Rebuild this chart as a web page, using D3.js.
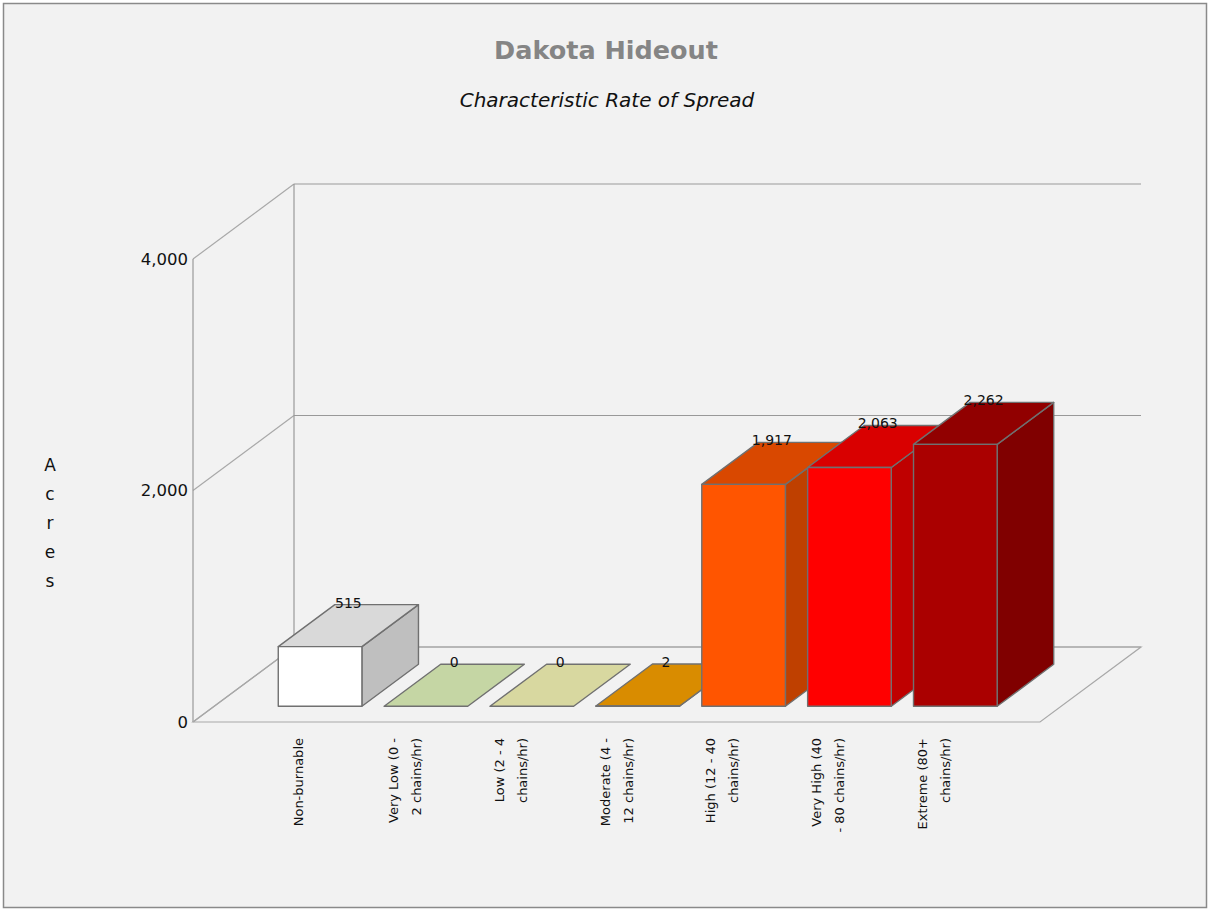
<!DOCTYPE html>
<html>
<head>
<meta charset="utf-8">
<script src="https://cdn.jsdelivr.net/npm/d3@7/dist/d3.min.js"></script>
<style>
  html, body { margin: 0; padding: 0; background: #ffffff; }
  svg { display: block; }
  text { font-family: "DejaVu Sans", Verdana, sans-serif; }
</style>
</head>
<body>
<script>
const categories = ["Non-burnable", "Very Low (0 - 2 chains/hr)", "Low (2 - 4 chains/hr)", "Moderate (4 - 12 chains/hr)", "High (12 - 40 chains/hr)", "Very High (40 - 80 chains/hr)", "Extreme (80+ chains/hr)"];
const categoryLines = [["Non-burnable"], ["Very Low (0 -", "2 chains/hr)"], ["Low (2 - 4", "chains/hr)"], ["Moderate (4 -", "12 chains/hr)"], ["High (12 - 40", "chains/hr)"], ["Very High (40", "- 80 chains/hr)"], ["Extreme (80+", "chains/hr)"]];
const acres = [515, 0, 0, 2, 1917, 2063, 2262];
const barColors = ["#ffffff", "#e8fcc1", "#fefebc", "#ffa500", "#ff5500", "#ff0000", "#aa0000"];
const yTicks = [0, 2000, 4000];
const titleText = "Dakota Hideout";
const subtitleText = "Characteristic Rate of Spread";
const yAxisTitle = "Acres";

const W = 1208, H = 909;
const svg = d3.select("body").append("svg").attr("width", W).attr("height", H);

svg.append("rect").attr("x", 0).attr("y", 0).attr("width", W).attr("height", H).attr("fill", "#ffffff");
svg.append("rect").attr("x", 3.5).attr("y", 3.5).attr("width", 1203).attr("height", 904)
  .attr("fill", "#f2f2f2").attr("stroke", "#8a8a8a").attr("stroke-width", 1.5);

// geometry
const x0 = 193, x1 = 1040;
const depthX = 101, depthY = 75;
const x = d3.scalePoint().domain(categories).range([x0, x1]).padding(1);
const y = d3.scaleLinear().domain([0, 4000]).range([722, 259]);
const zFront = 0.21, zBack = 0.77;
const barW = x.step() * 0.79;
const P = (px, v, z) => [px + z * depthX, y(v) - z * depthY];

const gridColor = "#999999";
yTicks.forEach(t => {
  const a = P(x0, t, 1), b = P(x1, t, 1), c = P(x0, t, 0);
  svg.append("line").attr("x1", c[0]).attr("y1", c[1]).attr("x2", a[0]).attr("y2", a[1])
    .attr("stroke", "#a8a8a8").attr("stroke-width", 1.2);
  svg.append("line").attr("x1", a[0]).attr("y1", a[1]).attr("x2", b[0]).attr("y2", b[1])
    .attr("stroke", gridColor).attr("stroke-width", 1.2);
});
[0, 1].forEach(z => {
  const a = P(x0, 0, z), b = P(x0, 4000, z);
  svg.append("line").attr("x1", a[0]).attr("y1", a[1]).attr("x2", b[0]).attr("y2", b[1])
    .attr("stroke", gridColor).attr("stroke-width", 1.2);
});
{
  const pts = [P(x0, 0, 0), P(x1, 0, 0), P(x1, 0, 1), P(x0, 0, 1)];
  svg.append("path").attr("d", "M" + pts.map(p => p.join(",")).join("L") + "Z")
    .attr("fill", "none").attr("stroke", "#a8a8a8").attr("stroke-width", 1.2);
}

yTicks.forEach(t => {
  svg.append("text").attr("x", 188).attr("y", y(t)).attr("dy", "0.35em")
    .attr("text-anchor", "end").attr("font-size", 16.5).attr("fill", "#111").text(d3.format(",")(t));
});

yAxisTitle.split("").forEach((ch, i) => {
  svg.append("text").attr("x", 50).attr("y", 465 + i * 29).attr("dy", "0.35em")
    .attr("text-anchor", "middle").attr("font-size", 17).attr("fill", "#111").text(ch);
});

const shade = (c, k) => { const r = d3.rgb(c); return d3.rgb(r.r * k, r.g * k, r.b * k).formatHex(); };
const poly = pts => "M" + pts.map(p => p.join(",")).join("L") + "Z";
categories.forEach((cat, i) => {
  const cx = x(cat);
  const l = cx - barW / 2, r = cx + barW / 2;
  const v = acres[i];
  const g = svg.append("g");
  const front = [P(l, 0, zFront), P(r, 0, zFront), P(r, v, zFront), P(l, v, zFront)];
  const top = [P(l, v, zFront), P(r, v, zFront), P(r, v, zBack), P(l, v, zBack)];
  const side = [P(r, 0, zFront), P(r, 0, zBack), P(r, v, zBack), P(r, v, zFront)];
  const sc = "#707070", sw = 1.4;
  if (v > 0) {
    g.append("path").attr("d", poly(side)).attr("fill", shade(barColors[i], 0.75))
      .attr("stroke", sc).attr("stroke-width", sw).attr("stroke-linejoin", "round");
  }
  g.append("path").attr("d", poly(top)).attr("fill", shade(barColors[i], 0.85))
    .attr("stroke", sc).attr("stroke-width", sw).attr("stroke-linejoin", "round");
  if (v > 0) {
    g.append("path").attr("d", poly(front)).attr("fill", barColors[i])
      .attr("stroke", sc).attr("stroke-width", sw).attr("stroke-linejoin", "round");
  }
  const backY = P(cx, v, zBack)[1];
  const tx = cx + (zFront + zBack) / 2 * depthX;
  svg.append("text").attr("x", tx).attr("y", backY + 3)
    .attr("text-anchor", "middle").attr("font-size", 14).attr("fill", "#111")
    .text(d3.format(",")(v));
});

categories.forEach((cat, i) => {
  const cx = x(cat);
  const lines = categoryLines[i];
  const n = lines.length;
  lines.forEach((ln, j) => {
    const off = (j - (n - 1) / 2) * 23;
    svg.append("text")
      .attr("transform", `translate(${cx + off},738) rotate(-90)`)
      .attr("text-anchor", "end").attr("dy", "0.35em")
      .attr("font-size", 13).attr("fill", "#111").text(ln);
  });
});

svg.append("text").attr("x", 606).attr("y", 59).attr("text-anchor", "middle")
  .attr("font-size", 25.5).attr("font-weight", "bold").attr("fill", "#858585").text(titleText);
svg.append("text").attr("x", 607).attr("y", 107).attr("text-anchor", "middle")
  .attr("font-size", 20).attr("font-style", "italic").attr("fill", "#111").text(subtitleText);
</script>
</body>
</html>
